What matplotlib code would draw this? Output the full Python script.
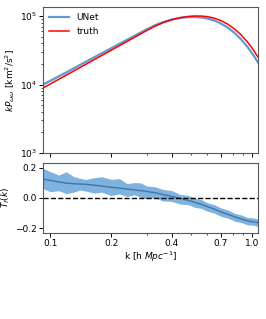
import matplotlib
matplotlib.use("Agg")
import matplotlib.pyplot as plt
import matplotlib.ticker as mticker
import numpy as np

# wavenumbers [h/Mpc]
k = [0.092, 0.1, 0.11, 0.12, 0.13, 0.14, 0.15, 0.165, 0.18, 0.2,
     0.22, 0.24, 0.26, 0.28, 0.3, 0.33, 0.36, 0.4, 0.44, 0.48,
     0.52, 0.56, 0.6, 0.65, 0.7, 0.76, 0.82, 0.88, 0.95, 1.01, 1.07]

# kP_ww in units of 1e4 km^2/s^2
truth = [0.891, 1.020, 1.192, 1.373, 1.565, 1.766, 1.976, 2.309, 2.659, 3.157,
         3.688, 4.250, 4.843, 5.467, 6.114, 7.087, 7.930, 8.818, 9.440, 9.817,
         9.985, 9.968, 9.765, 9.277, 8.578, 7.552, 6.442, 5.335, 4.147, 3.260, 2.510]
unet = [1.001, 1.137, 1.317, 1.506, 1.711, 1.927, 2.152, 2.501, 2.864, 3.378,
        3.924, 4.497, 5.095, 5.724, 6.371, 7.321, 8.104, 8.897, 9.402, 9.650,
        9.685, 9.539, 9.199, 8.581, 7.780, 6.721, 5.630, 4.588, 3.517, 2.742, 2.098]

# transfer function T_f(k): mean and spread above / below
tf_mean = [0.123, 0.115, 0.105, 0.097, 0.093, 0.091, 0.089, 0.083, 0.077, 0.070,
           0.064, 0.058, 0.052, 0.047, 0.042, 0.033, 0.022, 0.009, -0.004, -0.017,
           -0.030, -0.043, -0.058, -0.075, -0.093, -0.110, -0.126, -0.140, -0.152, -0.159, -0.164]
tf_up = [0.072, 0.058, 0.045, 0.075, 0.048, 0.038, 0.032, 0.05, 0.062, 0.052,
         0.062, 0.036, 0.048, 0.052, 0.036, 0.04, 0.034, 0.038, 0.026, 0.033,
         0.027, 0.031, 0.025, 0.03, 0.026, 0.029, 0.023, 0.027, 0.022, 0.026, 0.023]
tf_lo = [0.062, 0.075, 0.058, 0.07, 0.056, 0.04, 0.045, 0.052, 0.04, 0.055,
         0.038, 0.05, 0.032, 0.044, 0.048, 0.032, 0.043, 0.033, 0.038, 0.028,
         0.033, 0.027, 0.031, 0.026, 0.03, 0.025, 0.029, 0.023, 0.027, 0.022, 0.026]

xtick_vals = [0.1, 0.2, 0.4, 0.7, 1.0]
xtick_labels = ["0.1", "0.2", "0.4", "0.7", "1.0"]

plt.rcParams['font.size'] = 6.5
plt.rcParams['axes.edgecolor'] = '0.35'

k = np.array(k)
truth = np.array(truth) * 1e4
unet = np.array(unet) * 1e4
tf_mean = np.array(tf_mean)

fig = plt.figure(figsize=(2.66, 3.19), dpi=100)
ax1 = fig.add_axes([0.162, 0.520, 0.808, 0.458])
ax2 = fig.add_axes([0.162, 0.271, 0.808, 0.218])

blue = '#6699cc'
ax1.fill_between(k, unet * 0.97, unet * 1.03, color=blue, alpha=0.35, lw=0)
ax1.plot(k, unet, color=blue, lw=1.6, label='UNet')
ax1.plot(k, truth, color='red', lw=1.1, label='truth')
ax1.set_xscale('log')
ax1.set_yscale('log')
ax1.set_xlim(0.092, 1.07)
ax1.set_ylim(1e3, 1.35e5)
ax1.set_xticks(xtick_vals)
ax1.xaxis.set_minor_locator(mticker.LogLocator(subs=np.arange(2, 10)))
ax1.xaxis.set_major_formatter(mticker.NullFormatter())
ax1.xaxis.set_minor_formatter(mticker.NullFormatter())
ax1.set_ylabel(r'$kP_{\omega\omega}$ [km$^2$/s$^2$]')
ax1.yaxis.set_label_coords(-0.121, 0.5)
ax1.legend(loc='upper left', frameon=False, handlelength=2.2, borderaxespad=0.3)

ax2.fill_between(k, tf_mean + np.array(tf_up), tf_mean - np.array(tf_lo),
                 color='#7fb2dc', lw=0)
ax2.plot(k, tf_mean, color='#3f75ad', lw=1)
ax2.axhline(0, color='k', ls='--', lw=1)
ax2.set_xscale('log')
ax2.set_xlim(0.092, 1.07)
ax2.set_ylim(-0.23, 0.23)
ax2.set_yticks([-0.2, 0.0, 0.2])
ax2.set_xticks(xtick_vals)
ax2.set_xticklabels(xtick_labels)
ax2.xaxis.set_minor_locator(mticker.LogLocator(subs=np.arange(2, 10)))
ax2.xaxis.set_minor_formatter(mticker.NullFormatter())
ax2.set_ylabel(r'$T_f(k)$')
ax2.yaxis.set_label_coords(-0.144, 0.5)
ax2.set_xlabel(r'k [h $Mpc^{-1}$]', labelpad=1)

for ax in (ax1, ax2):
    ax.tick_params(length=3, width=0.7, pad=1.5)
    ax.tick_params(which='minor', length=1.5, width=0.5)

fig.savefig('out.png', dpi=100)
